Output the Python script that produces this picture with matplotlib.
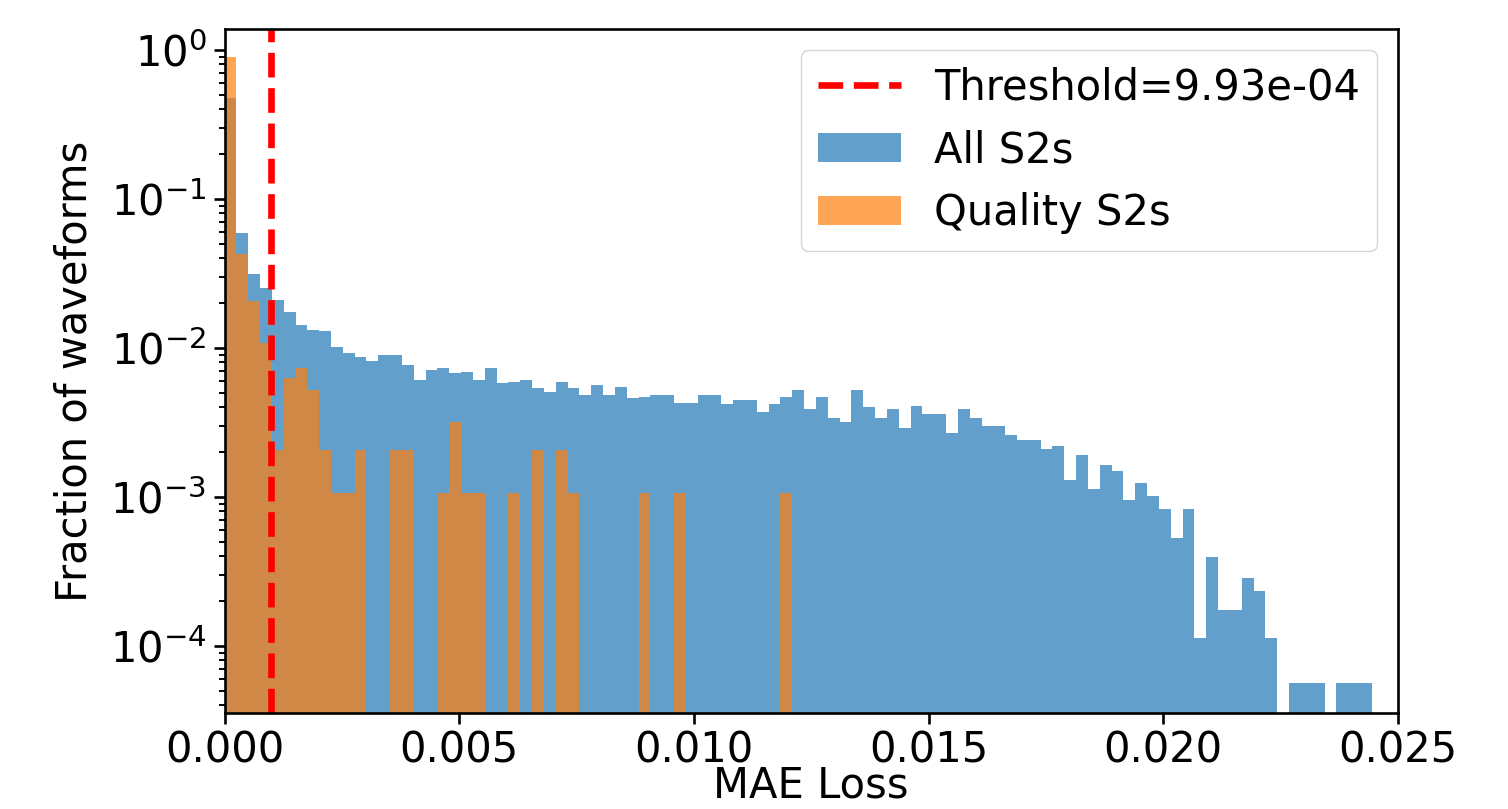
import numpy as np
import matplotlib
matplotlib.use("Agg")
import matplotlib.pyplot as plt
from matplotlib.lines import Line2D
from matplotlib.patches import Patch

# ---- data (fractions of waveforms per MAE-loss bin) ----
bin_width = 0.000252
n_bins = 97
threshold = 9.93e-04

all_s2s = [
    0.476, 0.0595, 0.0312, 0.0251, 0.0210, 0.0175, 0.0143, 0.0132, 0.0129, 0.0102,
    0.0093, 0.0087, 0.0082, 0.0090, 0.0090, 0.0077, 0.0061, 0.0071, 0.0073, 0.0068,
    0.0069, 0.0061, 0.0073, 0.0058, 0.0059, 0.0061, 0.0054, 0.0051, 0.0059, 0.0054,
    0.0048, 0.0056, 0.0048, 0.0055, 0.0046, 0.0047, 0.0048, 0.0048, 0.0043, 0.0043,
    0.0048, 0.0048, 0.0042, 0.0045, 0.0045, 0.0037, 0.0042, 0.0047, 0.0052, 0.0039,
    0.0047, 0.0034, 0.0032, 0.0052, 0.0040, 0.0034, 0.0039, 0.0029, 0.0041, 0.0036,
    0.0036, 0.0027, 0.0039, 0.0034, 0.0030, 0.0030, 0.0026, 0.0024, 0.0024, 0.0021,
    0.0022, 0.00129, 0.0019, 0.00113, 0.00165, 0.00150, 0.00096, 0.00124, 0.00101, 0.00083,
    0.00053, 0.00083, 0.000113, 0.000397, 0.000174, 0.000174, 0.000287, 0.000233, 0.000113, 0.0,
    0.000056, 0.000056, 0.000056, 0.0, 0.000056, 0.000056, 0.000056,
]

quality_s2s = [
    0.893, 0.043, 0.0206, 0.0108, 0.00207, 0.0063, 0.0073, 0.0052, 0.00207, 0.00106,
    0.00106, 0.00207, 0.0, 0.0, 0.00207, 0.00207, 0.0, 0.0, 0.00106, 0.0032,
    0.00106, 0.00106, 0.0, 0.0, 0.00106, 0.0, 0.00207, 0.0, 0.00207, 0.00106,
    0.0, 0.0, 0.0, 0.0, 0.0, 0.00106, 0.0, 0.0, 0.00106, 0.0,
    0.0, 0.0, 0.0, 0.0, 0.0, 0.0, 0.0, 0.00106, 0.0, 0.0,
] + [0.0] * 47

labels = ["Threshold=9.93e-04", "All S2s", "Quality S2s"]

# ---- plot ----
FS = 30
plt.rcParams.update({
    "font.family": ["DejaVu Sans"],
    "font.size": FS,
    "axes.linewidth": 1.9,
    "xtick.major.width": 1.9,
    "ytick.major.width": 1.9,
    "ytick.minor.width": 1.4,
    "xtick.major.size": 8,
    "ytick.major.size": 8,
    "ytick.minor.size": 4.5,
    "xtick.major.pad": 4,
    "ytick.major.pad": 5,
})

edges = np.linspace(0, n_bins * bin_width, n_bins + 1)
centers = 0.5 * (edges[:-1] + edges[1:])

fig = plt.figure(figsize=(15.08, 8.09), dpi=100)
ax = fig.add_axes([0.1489, 0.1187, 0.927 - 0.1489, 0.964 - 0.1187])

ax.hist(centers, bins=edges, weights=all_s2s, color="C0", alpha=0.7, log=True)
ax.hist(centers, bins=edges, weights=quality_s2s, color="C1", alpha=0.7, log=True)
ax.axvline(threshold, color="red", linestyle="--", linewidth=4.8)

ax.set_yscale("log")
ax.set_xlim(0, 0.025)
ax.set_ylim(3.55e-5, 1.38)
ax.set_xticks([0.0, 0.005, 0.010, 0.015, 0.020, 0.025])
ax.set_xticklabels(["0.000", "0.005", "0.010", "0.015", "0.020", "0.025"])
ax.set_xlabel("MAE Loss", labelpad=-5)
ax.set_ylabel("Fraction of waveforms", labelpad=10)

handles = [
    Line2D([0], [0], color="red", linestyle="--", linewidth=4.8),
    Patch(facecolor="C0", alpha=0.7),
    Patch(facecolor="C1", alpha=0.7),
]
ax.legend(handles, labels, loc="upper right", fontsize=FS)

fig.savefig("out.png", dpi=100)
